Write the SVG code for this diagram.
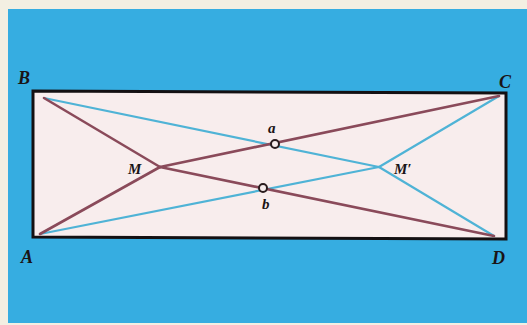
<svg xmlns="http://www.w3.org/2000/svg" width="527" height="325" viewBox="0 0 527 325">
<style>
.lbl{font-family:"Liberation Serif",serif;font-style:italic;font-weight:bold;fill:#1a1416;}
.big{font-size:18px;}
.sm{font-size:15px;}
.br{stroke:#8a4a5a;stroke-width:2.6;fill:none;stroke-linecap:round;}
.bl{stroke:#4fb3d6;stroke-width:2.2;fill:none;stroke-linecap:round;}
.pt{fill:#f6ecec;stroke:#2a1c1e;stroke-width:2;}
</style>
<rect x="0" y="0" width="527" height="325" fill="#f3efe2"/>
<rect x="8" y="9" width="519" height="314" fill="#36ade1"/>
<g id="frame">
<polygon points="33,91 506,93 506,239 33,237" fill="#f8eded" stroke="#141012" stroke-width="3"/>
</g>
<g id="connectors">
<line class="bl" x1="44" y1="98" x2="379" y2="167"/>
<line class="bl" x1="40" y1="234" x2="379" y2="167"/>
<line class="bl" x1="379" y1="167" x2="499" y2="96"/>
<line class="bl" x1="379" y1="167" x2="494" y2="236"/>
<line class="br" x1="44" y1="98" x2="160" y2="167"/>
<line class="br" x1="40" y1="234" x2="160" y2="167"/>
<line class="br" x1="160" y1="167" x2="499" y2="96"/>
<line class="br" x1="160" y1="167" x2="494" y2="236"/>
</g>
<g id="B"><text class="lbl big" x="18" y="84">B</text></g>
<g id="A"><text class="lbl big" x="21" y="263">A</text></g>
<g id="C"><text class="lbl big" x="499" y="88">C</text></g>
<g id="D"><text class="lbl big" x="492" y="264">D</text></g>
<g id="M"><text class="lbl sm" x="128" y="174">M</text></g>
<g id="M2"><text class="lbl sm" x="394" y="174">M′</text></g>
<g id="a"><circle class="pt" cx="275" cy="144" r="4"/><text class="lbl sm" x="268" y="133">a</text></g>
<g id="b"><circle class="pt" cx="263" cy="188" r="4"/><text class="lbl sm" x="262" y="209">b</text></g>
</svg>
